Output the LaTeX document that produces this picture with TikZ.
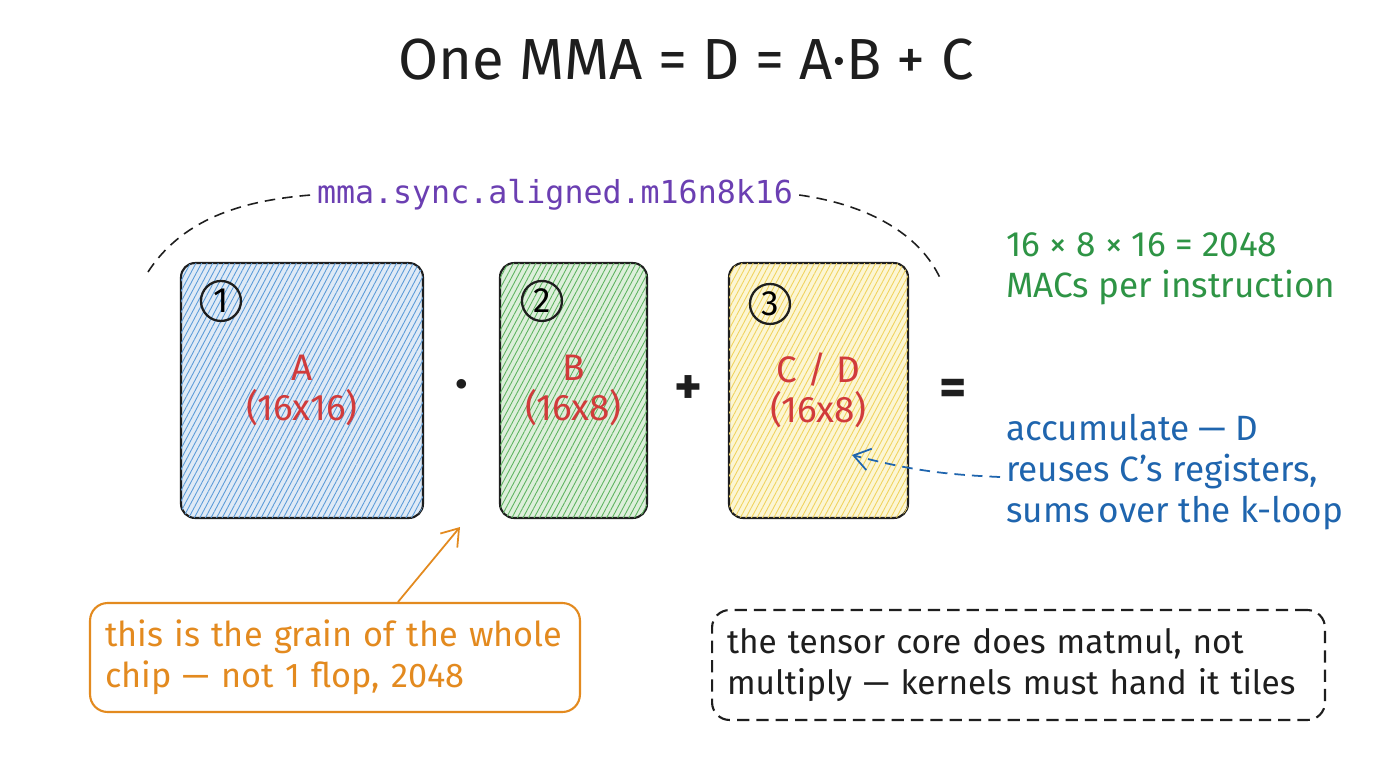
\documentclass[tikz,border=0pt]{standalone}
\usepackage{fontspec}
\setmainfont{Fira Sans}
\setmonofont{DejaVu Sans Mono}
\usepackage{xcolor}
\usetikzlibrary{arrows.meta,positioning,patterns.meta}
\definecolor{mmablue}{HTML}{5B9BD8}
\definecolor{mmabluefill}{HTML}{DFEAF6}
\definecolor{mmagreen}{HTML}{5DB35F}
\definecolor{mmagreenfill}{HTML}{DDEFDB}
\definecolor{mmayellow}{HTML}{F0D35E}
\definecolor{mmayellowfill}{HTML}{FCF6D4}
\definecolor{mmared}{HTML}{D13B3B}
\definecolor{mmapurple}{HTML}{6B3FB2}
\definecolor{mmatextgreen}{HTML}{2E9445}
\definecolor{mmatextblue}{HTML}{1F65AE}
\definecolor{mmaorange}{HTML}{E38A1F}
\definecolor{mmadark}{HTML}{1E1E1E}

\begin{document}
\begin{tikzpicture}[
    x=0.02cm, y=-0.02cm,
    tile/.style={draw=mmadark, line width=1.2pt, rounded corners=8pt, align=center,
      text=mmared, font=\fontsize{21}{23}\selectfont},
    hatch/.style={fill=#1fill, postaction={pattern={Lines[angle=62,distance=2.8pt,line width=0.5pt]},
      pattern color=#1}},
    badge/.style={circle, draw=mmadark, line width=1.3pt, minimum size=0.8cm, inner sep=0pt,
      font=\fontsize{20}{22}\selectfont},
    oper/.style={font=\fontsize{30}{32}\selectfont\bfseries, text=mmadark},
    note/.style={align=left, anchor=west, font=\fontsize{20}{23.3}\selectfont},
    callout/.style={rounded corners=10pt, line width=1.2pt, align=left, inner sep=0.3cm,
      font=\fontsize{19.5}{23.3}\selectfont},
    pointer/.style={-{Straight Barb[length=3.2mm,width=4.4mm]}, line width=1pt}
  ]
    \fill[white] (0,0) rectangle (1376,768);
    \useasboundingbox (0,0) rectangle (1376,768);

    % title
    \node[font=\fontsize{33}{36}\selectfont, text=mmadark] (title) at (686,60) {One MMA = D = A·B + C};

    % the three operand tiles
    \node[tile, hatch=mmablue, minimum width=4.84cm, minimum height=5.1cm] (tA) at (302,390.5)
      {A\\(16x16)};
    \node[tile, hatch=mmagreen, minimum width=2.94cm, minimum height=5.1cm] (tB) at (573.5,390.5)
      {B\\(16x8)};
    \node[tile, hatch=mmayellow, minimum width=3.58cm, minimum height=5.1cm] (tC) at (818.5,390.5)
      {C / D\\(16x8)};

    \node[badge] (nA) at ([shift={(41,39)}]tA.north west) {1};
    \node[badge] (nB) at ([shift={(43,39)}]tB.north west) {2};
    \node[badge] (nC) at ([shift={(42,42)}]tC.north west) {3};

    \node[oper] (dot) at (462,390) {·};
    \node[oper] (plus) at (688,390) {+};
    \node[oper] (eq) at (953,392) {=};

    % instruction name over the tiles
    \node[font=\fontsize{18}{20}\selectfont\ttfamily, text=mmapurple] (instr) at (555,195)
      {mma.sync.aligned.m16n8k16};
    \draw[dashed, dash pattern=on 6pt off 4pt, line width=0.9pt, mmadark]
      (148,272) .. controls (185,215) and (250,200) .. (instr.west);
    \draw[dashed, dash pattern=on 6pt off 4pt, line width=0.9pt, mmadark]
      (instr.east) .. controls (870,205) and (920,235) .. (940,278);

    % side notes
    \node[note, text=mmatextgreen] (macs) at (1000,269) {16 × 8 × 16 = 2048\\MACs per instruction};
    \node[note, text=mmatextblue] (accnote) at (1000,472)
      {accumulate — D\\reuses C’s registers,\\sums over the k-loop};
    \coordinate (cdtip) at (852,455);
    \draw[pointer, dashed, dash pattern=on 6pt off 4pt, mmatextblue]
      ([yshift=-0.1cm]accnote.west) to[bend left=6] (cdtip);

    % callouts at the bottom
    \node[callout, draw=mmaorange, text=mmaorange, text width=9.2cm, minimum height=2.18cm]
      (grain) at (335,657.5) {this is the grain of the whole\\chip — not 1 flop, 2048};
    \coordinate (graintip) at (460,527);
    \draw[pointer, mmaorange] ([xshift=1.26cm]grain.north) -- (graintip);

    \node[callout, draw=mmadark, dashed, dash pattern=on 7pt off 4pt, text=mmadark,
      text width=11.66cm, minimum height=2.2cm, inner sep=0.3cm, font=\fontsize{19}{23.3}\selectfont]
      (tiles) at (1018.5,665) {the tensor core does matmul, not\\multiply — kernels must hand it tiles};
  \end{tikzpicture}
\end{document}
